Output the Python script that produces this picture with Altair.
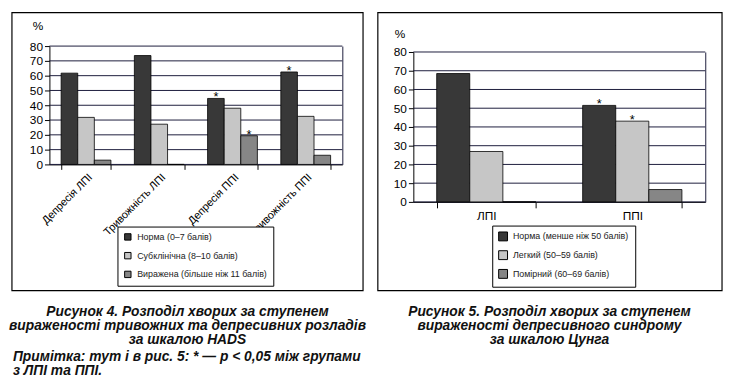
import altair as alt
import pandas as pd

# ---------------- data ----------------
left_categories = ["Депресія ЛПІ", "Тривожність ЛПІ", "Депресія ППІ", "Тривожність ППІ"]
left_series = ["Норма (0–7 балів)", "Субклінічна (8–10 балів)", "Виражена (більше ніж 11 балів)"]
left_norma = [61.7, 73.6, 44.6, 62.5]
left_subclin = [31.8, 27.2, 38.0, 32.5]
left_severe = [2.9, 0.0, 19.4, 6.2]
left_star_norma = [False, False, True, True]
left_star_subclin = [False, False, False, False]
left_star_severe = [False, False, True, False]

right_categories = ["ЛПІ", "ППІ"]
right_series = ["Норма (менше ніж 50 балів)", "Легкий (50–59 балів)", "Помірний (60–69 балів)"]
right_norma = [68.5, 51.5]
right_mild = [26.9, 43.1]
right_moderate = [0.0, 6.6]
right_star_norma = [False, True]
right_star_mild = [False, True]
right_star_moderate = [False, False]

series_colors = ["#383838", "#c6c6c6", "#868686"]
y_ticks = [0, 10, 20, 30, 40, 50, 60, 70, 80]

caption_left = ["Рисунок 4. Розподіл хворих за ступенем",
                "вираженості тривожних та депресивних розладів",
                "за шкалою HADS"]
note_left = ["Примітка: тут і в рис. 5: * — p < 0,05 між групами",
             "з ЛПІ та ППІ."]
caption_right = ["Рисунок 5. Розподіл хворих за ступенем",
                 "вираженості депресивного синдрому",
                 "за шкалою Цунга"]

FONT = "Liberation Sans, Arial, sans-serif"
CAP_FONT = "Liberation Sans, Arial, sans-serif"
LINE = "#1c1c3c"


def build_df(categories, series, values, stars):
    rows = []
    for s, vals, sts in zip(series, values, stars):
        for c, v, st in zip(categories, vals, sts):
            rows.append({"category": c, "series": s, "value": v, "star": st})
    return pd.DataFrame(rows)


one_row = pd.DataFrame({"k": [0]})
grid_df = pd.DataFrame({"tick": y_ticks})


def panel(categories, series, values, stars, y_range, box, legend_xy,
          label_angle, label_size, title_xy, legend_font, symbol_size, row_pad,
          tick_size, label_pad):
    df = build_df(categories, series, values, stars)
    x_enc = alt.X("category:N", sort=categories, title=None,
                  scale=alt.Scale(paddingInner=0.32, paddingOuter=0.16),
                  axis=alt.Axis(labelAngle=label_angle, labelFontSize=label_size,
                                labelFont=FONT, labelColor="black", tickBand="extent",
                                tickSize=tick_size, tickColor="black", domainColor="black",
                                labelPadding=label_pad, grid=False))
    xo_enc = alt.XOffset("series:N", sort=series,
                         scale=alt.Scale(paddingInner=0, paddingOuter=0))
    y_scale = alt.Scale(domain=[0, 80], nice=False, range=y_range)
    y_enc = alt.Y("value:Q", scale=y_scale,
                  axis=alt.Axis(values=y_ticks, orient="left", title="%", titleAngle=0,
                                titleX=title_xy[0], titleY=title_xy[1], titleAlign="center",
                                titleBaseline="middle", titleFont=FONT, titleFontSize=12,
                                titleFontWeight="normal", titleColor="black",
                                labelFont=FONT, labelFontSize=12, labelColor="black",
                                tickSize=5, tickColor="black", domainColor="black",
                                grid=False, labelPadding=2))
    grid = alt.Chart(grid_df).mark_rule(color=LINE, strokeWidth=1).encode(
        y=alt.Y("tick:Q", scale=y_scale,
                axis=alt.Axis(orient="right", labels=False, ticks=False, grid=False,
                              domain=True, domainColor=LINE, title=None))
    )
    bars = alt.Chart(df).mark_bar(stroke="black", strokeWidth=0.8).encode(
        x=x_enc, xOffset=xo_enc, y=y_enc,
        color=alt.Color("series:N", sort=series,
                        scale=alt.Scale(domain=series, range=series_colors),
                        legend=alt.Legend(orient="none", legendX=legend_xy[0],
                                          legendY=legend_xy[1], title=None,
                                          direction="vertical", symbolType="square",
                                          symbolSize=symbol_size, symbolStrokeColor="black",
                                          symbolStrokeWidth=1, labelFont=FONT,
                                          labelFontSize=legend_font, labelColor="#222222",
                                          rowPadding=row_pad, padding=6,
                                          strokeColor="black", fillColor="white",
                                          labelOffset=5)),
    )
    star_marks = alt.Chart(df).transform_filter("datum.star").mark_text(
        text="*", font=FONT, fontSize=13, baseline="alphabetic", dy=3, color="black"
    ).encode(x=x_enc, xOffset=xo_enc,
             y=alt.Y("value:Q", scale=y_scale, axis=None))
    frame = alt.Chart(one_row).mark_rect(filled=False, stroke="black", strokeWidth=1.2).encode(
        x=alt.value(box[0]), x2=alt.value(box[1]), y=alt.value(box[2]), y2=alt.value(box[3])
    )
    return [frame, grid, bars, star_marks]


left_layers = panel(left_categories, left_series,
                    [left_norma, left_subclin, left_severe],
                    [left_star_norma, left_star_subclin, left_star_severe],
                    [120, 0], (-38, 318, -34, 248), (69, 183), 315, 11,
                    (-12, -21), 9, 42, 8, 5, 2)
right_layers = panel(right_categories, right_series,
                     [right_norma, right_mild, right_moderate],
                     [right_star_norma, right_star_mild, right_star_moderate],
                     [158, 6], (-36, 313, -34, 248), (80, 182), 0, 12,
                     (-14, -13), 9, 81, 5, 6, 3)

cap_style = dict(font=CAP_FONT, fontSize=14, fontWeight="bold", fontStyle="italic",
                 color="#111111", baseline="alphabetic", lineHeight=14)

left_cap = alt.Chart(one_row).mark_text(text=caption_left, align="center", **cap_style).encode(
    x=alt.value(140), y=alt.value(274))
left_note = alt.Chart(one_row).mark_text(text=note_left, align="left",
                                         **{**cap_style, "lineHeight": 15}).encode(
    x=alt.value(-37), y=alt.value(319))
right_cap = alt.Chart(one_row).mark_text(text=caption_right, align="center", **cap_style).encode(
    x=alt.value(138), y=alt.value(274))

left = alt.layer(*left_layers, left_cap, left_note).resolve_axis(y="independent").properties(
    width=297, height=120)
right = alt.layer(*right_layers, right_cap).resolve_axis(y="independent").properties(
    width=296, height=158)

chart = alt.hconcat(left, right, spacing=9).resolve_scale(
    color="independent", xOffset="independent", x="independent", y="independent"
).resolve_legend(color="independent").properties(padding=0).configure_view(
    stroke="transparent"
)

chart.save("out.html", embed_options={"renderer": "svg", "actions": False})
